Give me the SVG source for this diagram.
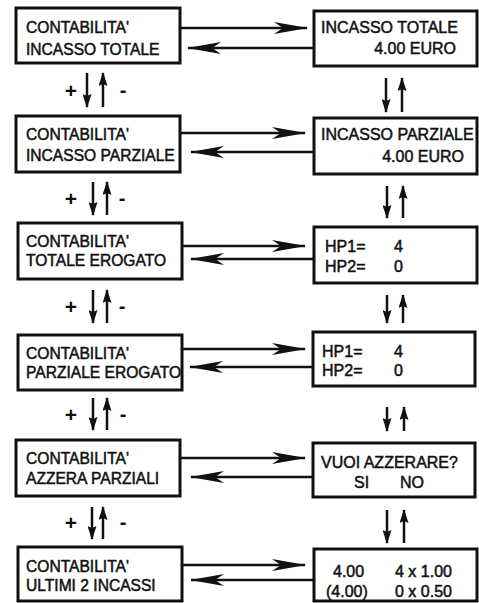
<svg xmlns="http://www.w3.org/2000/svg" width="479" height="603" viewBox="0 0 479 603">
<defs>
<style>
.box{fill:#fff;stroke:#111;stroke-width:3}
.t{font-family:"Liberation Sans",Arial,sans-serif;font-size:15.6px;fill:#111;stroke:#111;stroke-width:0.5}
.r{font-family:"Liberation Sans",Arial,sans-serif;font-size:16px;fill:#111;stroke:#111;stroke-width:0.5}
.sym{font-family:"Liberation Sans",Arial,sans-serif;font-weight:bold;fill:#111;text-anchor:middle}
.h{stroke:#111;stroke-width:2.5;fill:none;marker-end:url(#ah)}
.v{stroke:#111;stroke-width:2.5;fill:none;marker-end:url(#av)}
</style>
<marker id="ah" viewBox="0 0 34 12" refX="33" refY="6" markerWidth="34" markerHeight="12" markerUnits="userSpaceOnUse" orient="auto">
<path d="M0,0 L34,6 L0,12 L9,6 Z" fill="#111"/>
</marker>
<marker id="av" viewBox="0 0 14 9" refX="13" refY="4.5" markerWidth="14" markerHeight="9" markerUnits="userSpaceOnUse" orient="auto">
<path d="M0,0 L14,4.5 L0,9 L2,4.5 Z" fill="#111"/>
</marker>
</defs>
<rect width="479" height="603" fill="#fff"/>

<g id="L1"><rect class="box" x="16" y="8" width="164" height="55"/><text class="t" x="26" y="33">CONTABILITA'</text><text class="t" x="26" y="55">INCASSO TOTALE</text></g>
<g id="L2"><rect class="box" x="16" y="116" width="164" height="56"/><text class="t" x="26" y="140">CONTABILITA'</text><text class="t" x="26" y="161">INCASSO PARZIALE</text></g>
<g id="L3"><rect class="box" x="18" y="223" width="164" height="56"/><text class="t" x="26" y="247">CONTABILITA'</text><text class="t" x="26" y="266">TOTALE EROGATO</text></g>
<g id="L4"><rect class="box" x="18" y="335" width="164" height="55"/><text class="t" x="26" y="359">CONTABILITA'</text><text class="t" x="26" y="378">PARZIALE EROGATO</text></g>
<g id="L5"><rect class="box" x="16" y="440" width="164" height="56"/><text class="t" x="26" y="464">CONTABILITA'</text><text class="t" x="26" y="484">AZZERA PARZIALI</text></g>
<g id="L6"><rect class="box" x="18" y="547" width="164" height="54"/><text class="t" x="26" y="572">CONTABILITA'</text><text class="t" x="26" y="591">ULTIMI 2 INCASSI</text></g>

<g id="R1"><rect class="box" x="314" y="11" width="163" height="55"/><text class="r" x="321" y="33">INCASSO TOTALE</text><text class="r" x="456" y="54" text-anchor="end">4.00 EURO</text></g>
<g id="R2"><rect class="box" x="314" y="118" width="163" height="56"/><text class="r" x="321" y="140">INCASSO PARZIALE</text><text class="r" x="464" y="162" text-anchor="end">4.00 EURO</text></g>
<g id="R3"><rect class="box" x="314" y="227" width="163" height="56"/><text class="r" x="325" y="252">HP1=</text><text class="r" x="394" y="252">4</text><text class="r" x="325" y="272">HP2=</text><text class="r" x="394" y="272">0</text></g>
<g id="R4"><rect class="box" x="313" y="332" width="162" height="54"/><text class="r" x="322" y="357">HP1=</text><text class="r" x="394" y="357">4</text><text class="r" x="322" y="376">HP2=</text><text class="r" x="394" y="376">0</text></g>
<g id="R5"><rect class="box" x="313" y="443" width="162" height="54"/><text class="r" x="321" y="468">VUOI AZZERARE?</text><text class="r" x="354" y="488">SI</text><text class="r" x="400" y="488">NO</text></g>
<g id="R6"><rect class="box" x="314" y="549" width="163" height="52"/><text class="r" x="333" y="577">4.00</text><text class="r" x="395" y="577">4 x 1.00</text><text class="r" x="326" y="597">(4.00)</text><text class="r" x="395" y="597">0 x 0.50</text></g>

<g id="connectors">
<line class="h" x1="180" y1="28" x2="307" y2="28"/>
<line class="h" x1="313" y1="48" x2="188" y2="48"/>
<line class="h" x1="180" y1="133" x2="305" y2="133"/>
<line class="h" x1="313" y1="152" x2="191" y2="152"/>
<line class="h" x1="183" y1="246" x2="305" y2="246"/>
<line class="h" x1="313" y1="259" x2="191" y2="259"/>
<line class="h" x1="183" y1="349" x2="305" y2="349"/>
<line class="h" x1="313" y1="367" x2="190" y2="367"/>
<line class="h" x1="180" y1="458" x2="305" y2="458"/>
<line class="h" x1="313" y1="477" x2="191" y2="477"/>
<line class="h" x1="183" y1="565" x2="305" y2="565"/>
<line class="h" x1="314" y1="580" x2="191" y2="580"/>

<line class="v" x1="87" y1="73" x2="87" y2="107"/>
<line class="v" x1="103" y1="107" x2="103" y2="73"/>
<line class="v" x1="93" y1="182" x2="93" y2="215"/>
<line class="v" x1="107" y1="215" x2="107" y2="182"/>
<line class="v" x1="93" y1="290" x2="93" y2="323"/>
<line class="v" x1="107" y1="323" x2="107" y2="290"/>
<line class="v" x1="93" y1="398" x2="93" y2="430"/>
<line class="v" x1="107" y1="430" x2="107" y2="398"/>
<line class="v" x1="92" y1="507" x2="92" y2="539"/>
<line class="v" x1="103" y1="539" x2="103" y2="507"/>

<line class="v" x1="386" y1="78" x2="386" y2="112"/>
<line class="v" x1="402" y1="112" x2="402" y2="78"/>
<line class="v" x1="387" y1="186" x2="387" y2="218"/>
<line class="v" x1="403" y1="218" x2="403" y2="186"/>
<line class="v" x1="387" y1="295" x2="387" y2="323"/>
<line class="v" x1="403" y1="323" x2="403" y2="295"/>
<line class="v" x1="387" y1="407" x2="387" y2="431"/>
<line class="v" x1="404" y1="431" x2="404" y2="407"/>
<line class="v" x1="387" y1="510" x2="387" y2="543"/>
<line class="v" x1="404" y1="543" x2="404" y2="510"/>
</g>

<g id="labels">
<text class="sym" x="71" y="98" font-size="21">+</text><text class="sym" x="123" y="97" font-size="20">-</text>
<text class="sym" x="71" y="206" font-size="21">+</text><text class="sym" x="122" y="205" font-size="20">-</text>
<text class="sym" x="71" y="314" font-size="21">+</text><text class="sym" x="122" y="313" font-size="20">-</text>
<text class="sym" x="71" y="422" font-size="21">+</text><text class="sym" x="123" y="421" font-size="20">-</text>
<text class="sym" x="71" y="530" font-size="21">+</text><text class="sym" x="123" y="529" font-size="20">-</text>
</g>
</svg>
